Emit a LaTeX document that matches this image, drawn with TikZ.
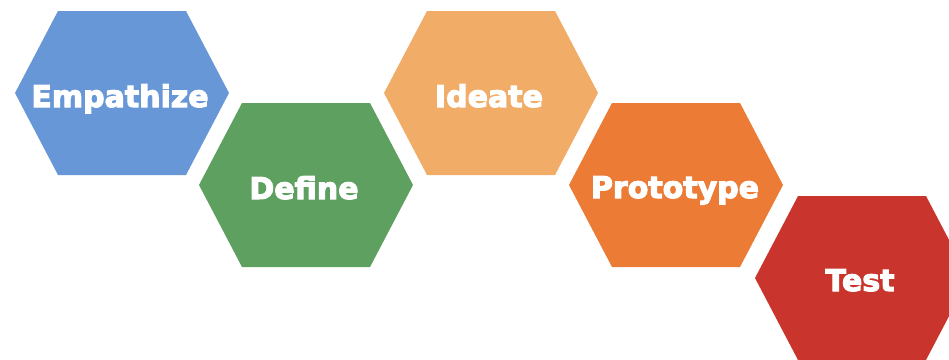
\documentclass[tikz,border=0pt]{standalone}
\usepackage{fontspec}
\setsansfont{DejaVu Sans}
\usepackage{tikz}
\usetikzlibrary{shapes}
\definecolor{empblue}{HTML}{6797D6}
\definecolor{defgreen}{HTML}{5DA060}
\definecolor{ideorange}{HTML}{F1AD68}
\definecolor{proorange}{HTML}{EC7B36}
\definecolor{testred}{HTML}{C9342C}
% thicker letters: fill and stroke the glyphs
\newcommand{\heavytext}[1]{\special{pdf:literal direct 2 Tr 1.1 w 1 1 1 RG}#1\special{pdf:literal direct 0 Tr}}

\begin{document}
\begin{tikzpicture}[x=1pt, y=-1pt, phase/.style={anchor=base, text=white, font=\sffamily\bfseries\fontsize{30}{32}\selectfont, inner sep=0pt}]
\useasboundingbox (0,0) rectangle (949,359);
\fill[white] (0,0) rectangle (949,359);
\foreach \cx/\cy/\col in {122/93/empblue, 306/185/defgreen, 491/93/ideorange, 676/185/proorange, 862/278/testred}
  \fill[\col] (\cx,\cy) ++(-107,0) -- ++(43,-82) -- ++(128,0) -- ++(43,82) -- ++(-43,82) -- ++(-128,0) -- cycle;
\node[phase] (empathize) at (120,107) {\heavytext{Empathize}};
\node[phase] (define) at (304,199) {\heavytext{Define}};
\node[phase] (ideate) at (489,107) {\heavytext{Ideate}};
\node[phase] (prototype) at (675,198) {\heavytext{Prototype}};
\node[phase] (test) at (860,291) {\heavytext{Test}};
\end{tikzpicture}
\end{document}
